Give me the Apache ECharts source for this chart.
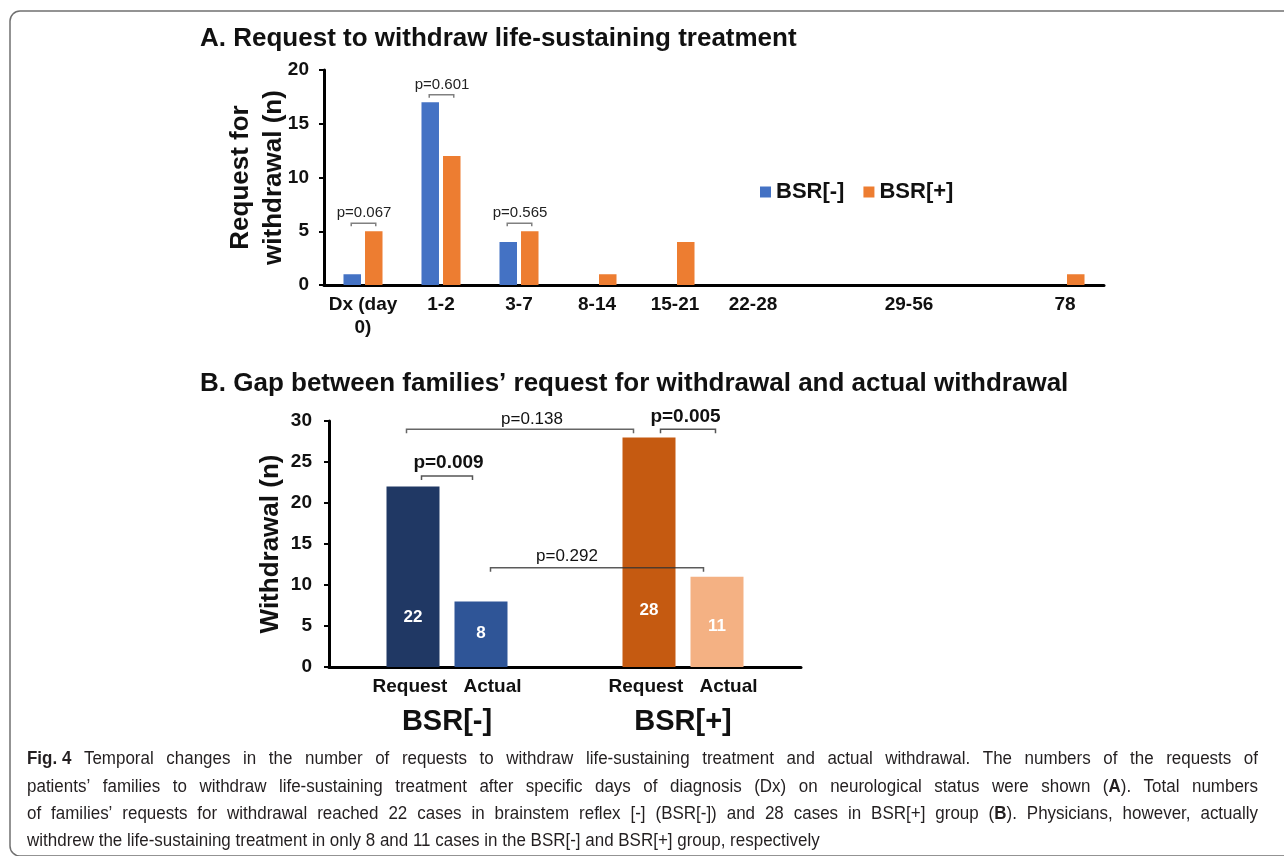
<!DOCTYPE html>
<html><head><meta charset="utf-8">
<script src="https://cdn.jsdelivr.net/npm/echarts@6/dist/echarts.min.js"></script>
<style>html,body{margin:0;padding:0;background:#fff}#c{width:1284px;height:856px}</style>
</head><body><div id="c"></div>
<script>
// ---------- DATA ----------
const dayCategories = ['Dx (day\n0)', '1-2', '3-7', '8-14', '15-21', '22-28', '', '29-56', '', '78'];
const bsrNegRequests = [1, 17, 4, 0, 0, 0, null, 0, null, 0];
const bsrPosRequests = [5, 12, 5, 1, 4, 0, null, 0, null, 1];
const seriesNamesA = ['BSR[-]', 'BSR[+]'];
const yMaxA = 20, yStepA = 5;

const groupsB = ['BSR[-]', 'BSR[+]'];
const barNamesB = ['Request', 'Actual'];
const requestB = [22, 28];
const actualB = [8, 11];
const yMaxB = 30, yStepB = 5;

const pLabelsA = ['p=0.067', 'p=0.601', 'p=0.565'];
const pCatsA = [0, 1, 2];
const pLevelsA = [5.75, 17.7, 5.75];

const pLabelsB = ['p=0.138', 'p=0.005', 'p=0.009', 'p=0.292'];
const pLevelsB = [29, 29, 23.3, 12.1];
const pBoldB = [false, true, true, false];

const titleA = 'A. Request to withdraw life-sustaining treatment';
const titleB = 'B. Gap between families\u2019 request for withdrawal and actual withdrawal';
const captionLines = [
  '{b|Fig. 4}  Temporal changes in the number of requests to withdraw life-sustaining treatment and actual withdrawal. The numbers of the requests of',
  'patients\u2019 families to withdraw life-sustaining treatment after specific days of diagnosis (Dx) on neurological status were shown ({b|A}). Total numbers',
  'of families\u2019 requests for withdrawal reached 22 cases in brainstem reflex [-] (BSR[-]) and 28 cases in BSR[+] group ({b|B}). Physicians, however, actually',
  'withdrew the life-sustaining treatment in only 8 and 11 cases in the BSR[-] and BSR[+] group, respectively'
];

// ---------- STYLE ----------
const FONT = "'Liberation Sans', Arial, sans-serif";
const CAP_FONT = "'Liberation Sans', Arial, sans-serif";
const colorsA = ['#4472C4', '#ED7D31'];
const requestColors = ['#203864', '#C55A11'];
const actualColors = ['#2F5597', '#F4B183'];
const labelDistRequest = [41.5, 48];
const labelDistActual = [25, 32.5];
const INK = '#111';

const chart = echarts.init(document.getElementById('c'), null, {renderer: 'canvas'});

const axisLineStyle = {show: true, lineStyle: {color: '#000', width: 3}};
const yTick = {show: true, length: 5, lineStyle: {color: '#000', width: 2}};
const yLabelA = {fontSize: 19, fontWeight: 'bold', color: INK, margin: 15, fontFamily: FONT};
const yLabelB = {fontSize: 19, fontWeight: 'bold', color: INK, margin: 17, fontFamily: FONT};

const option = {
  animation: false,
  textStyle: {fontFamily: FONT},
  title: [
    {text: titleA, left: 200, top: 26, padding: 0, textStyle: {fontSize: 26, fontWeight: 'bold', color: INK, fontFamily: FONT}},
    {text: titleB, left: 200, top: 371, padding: 0, textStyle: {fontSize: 26, fontWeight: 'bold', color: INK, fontFamily: FONT}}
  ],
  legend: {
    data: seriesNamesA, left: 760, top: 181, padding: 0, icon: 'rect', itemWidth: 11, itemHeight: 11, itemGap: 19,
    textStyle: {fontSize: 22, fontWeight: 'bold', color: INK, fontFamily: FONT}
  },
  grid: [
    {left: 324, top: 70, width: 780, height: 215},
    {left: 329, top: 421, width: 472, height: 246}
  ],
  xAxis: [
    {type: 'category', gridIndex: 0, data: dayCategories, axisLine: axisLineStyle, axisTick: {show: false},
     axisLabel: {interval: 0, fontSize: 19, fontWeight: 'bold', color: INK, lineHeight: 23, margin: 8}},
    {type: 'category', gridIndex: 1, data: groupsB, axisLine: axisLineStyle, axisTick: {show: false},
     axisLabel: {interval: 0, margin: 7,
       formatter: v => '{s|' + barNamesB[0] + '}{sp|}{s|' + barNamesB[1] + '}\n{g|' + v + '}',
       rich: {
         s: {fontSize: 19, fontWeight: 'bold', color: INK, lineHeight: 26, fontFamily: FONT},
         sp: {width: 16},
         g: {fontSize: 29, fontWeight: 'bold', color: INK, lineHeight: 44, fontFamily: FONT}
       }}}
  ],
  yAxis: [
    {type: 'value', gridIndex: 0, min: 0, max: yMaxA, interval: yStepA, splitLine: {show: false},
     axisLine: axisLineStyle, axisTick: yTick, axisLabel: yLabelA,
     name: 'Request for\nwithdrawal (n)', nameLocation: 'middle', nameRotate: 90, nameGap: 34, nameMoveOverlap: false,
     nameTextStyle: {fontSize: 26, fontWeight: 'bold', color: INK, lineHeight: 33, fontFamily: FONT}},
    {type: 'value', gridIndex: 1, min: 0, max: yMaxB, interval: yStepB, splitLine: {show: false},
     axisLine: axisLineStyle, axisTick: yTick, axisLabel: yLabelB,
     name: 'Withdrawal (n)', nameLocation: 'middle', nameRotate: 90, nameGap: 45, nameMoveOverlap: false,
     nameTextStyle: {fontSize: 26, fontWeight: 'bold', color: INK, fontFamily: FONT}}
  ],
  series: [
    {name: seriesNamesA[0], type: 'bar', xAxisIndex: 0, yAxisIndex: 0, data: bsrNegRequests,
     barWidth: 17.5, barGap: '23%', itemStyle: {color: colorsA[0]}},
    {name: seriesNamesA[1], type: 'bar', xAxisIndex: 0, yAxisIndex: 0, data: bsrPosRequests,
     barWidth: 17.5, barGap: '23%', itemStyle: {color: colorsA[1]}},
    {name: barNamesB[0], type: 'bar', xAxisIndex: 1, yAxisIndex: 1, barWidth: 53, barGap: '28.3%',
     data: requestB.map((v, i) => ({value: v, itemStyle: {color: requestColors[i]}, label: {distance: labelDistRequest[i]}})),
     label: {show: true, position: 'insideBottom', color: '#fff', fontSize: 17, fontWeight: 'bold'}},
    {name: barNamesB[1], type: 'bar', xAxisIndex: 1, yAxisIndex: 1, barWidth: 53, barGap: '28.3%',
     data: actualB.map((v, i) => ({value: v, itemStyle: {color: actualColors[i]}, label: {distance: labelDistActual[i]}})),
     label: {show: true, position: 'insideBottom', color: '#fff', fontSize: 17, fontWeight: 'bold'}}
  ]
};
chart.setOption(option);

// ---------- ANNOTATIONS ----------
const gfx = [];
gfx.push({type: 'rect', z: -10, silent: true, shape: {x: 10, y: 11, width: 1320, height: 845, r: 10},
  style: {fill: 'none', stroke: '#707070', lineWidth: 1.5}});

const xPix = (ax, c) => chart.convertToPixel({xAxisIndex: ax}, c);
const yPix = (ax, v) => chart.convertToPixel({yAxisIndex: ax}, v);
const halfA = (17.5 + 17.5 * 0.23) / 2;
const halfB = (53 + 53 * 0.283) / 2;

function bracket(x1, x2, y, color, width, tick) {
  return {type: 'polyline', z: 50, silent: true,
    shape: {points: [[x1, y + tick], [x1, y], [x2, y], [x2, y + tick]]},
    style: {stroke: color, lineWidth: width, fill: null}};
}
function ptext(x, y, txt, size, bold, color) {
  return {type: 'text', z: 51, silent: true, x: x, y: y,
    style: {text: txt, fontSize: size, fontWeight: bold ? 'bold' : 'normal', fontFamily: FONT, fill: color,
      align: 'center', verticalAlign: 'middle'}};
}

pLabelsA.forEach((lab, k) => {
  const cx = xPix(0, pCatsA[k]);
  const y = yPix(0, pLevelsA[k]);
  gfx.push(bracket(cx - halfA - 1, cx + halfA + 2, y, '#808080', 1.5, 3));
  gfx.push(ptext(cx + 1, y - 10, lab, 15, false, '#222'));
});

// bracket ends: [barSlot(-1 request / +1 actual), category]
const endsB = [[[-1, 0], [-1, 1]], [[-1, 1], [1, 1]], [[-1, 0], [1, 0]], [[1, 0], [1, 1]]];
const insetsB = [[-6.5, -15.5], [11.5, -1.5], [8.5, -8.5], [9.5, -13.5]];
const textDxB = [12, -2.5, 1.5, -30];
const textDyB = [10, 12, 13, 11];
const lineColB = ['#666', '#555', '#555', 'rgba(50,50,50,0.8)'];
pLabelsB.forEach((lab, k) => {
  const e = endsB[k];
  const x1 = xPix(1, e[0][1]) + e[0][0] * halfB + insetsB[k][0];
  const x2 = xPix(1, e[1][1]) + e[1][0] * halfB + insetsB[k][1];
  const y = yPix(1, pLevelsB[k]);
  gfx.push(bracket(x1, x2, y, lineColB[k], 1.5, 4));
  gfx.push(ptext((x1 + x2) / 2 + textDxB[k], y - textDyB[k], lab, pBoldB[k] ? 19 : 17, pBoldB[k], '#111'));
});

// caption: slightly condensed; lines 1-3 justified like the journal layout
const CAP_SIZE = 17.5;
const capScale = 0.97;
const capLeft = 27, capRight = 1258;
const capY = [759, 787, 814, 841];
const ctx = document.createElement('canvas').getContext('2d');
function measure(str) {
  let w = 0;
  str.split(/(\{b\|[^}]*\})/).forEach(part => {
    if (!part) return;
    const m = part.match(/^\{b\|([^}]*)\}$/);
    ctx.font = (m ? 'bold ' : 'normal ') + CAP_SIZE + 'px ' + CAP_FONT;
    w += ctx.measureText(m ? m[1] : part).width;
  });
  return w;
}
function capText(x, y, str) {
  return {type: 'text', silent: true, x: x, y: y, scaleX: capScale, scaleY: 1,
    style: {text: str, fontSize: CAP_SIZE, fontFamily: CAP_FONT, fill: '#231f20', verticalAlign: 'middle', align: 'left',
      rich: {b: {fontWeight: 'bold', fontSize: CAP_SIZE, fontFamily: CAP_FONT, fill: '#231f20'}}}};
}
captionLines.forEach((line, k) => {
  if (k === captionLines.length - 1) {
    gfx.push(capText(capLeft, capY[k], line));
    return;
  }
  const words = line.match(/\{b\|[^}]*\}\S*|\S+/g);
  const widths = words.map(w => measure(w) * capScale);
  const total = widths.reduce((a, b) => a + b, 0);
  const gap = (capRight - capLeft - total) / (words.length - 1);
  let x = capLeft;
  words.forEach((w, i) => {
    gfx.push(capText(x, capY[k], w));
    x += widths[i] + gap;
  });
});

chart.setOption({graphic: {elements: gfx}});
</script>
</body></html>
